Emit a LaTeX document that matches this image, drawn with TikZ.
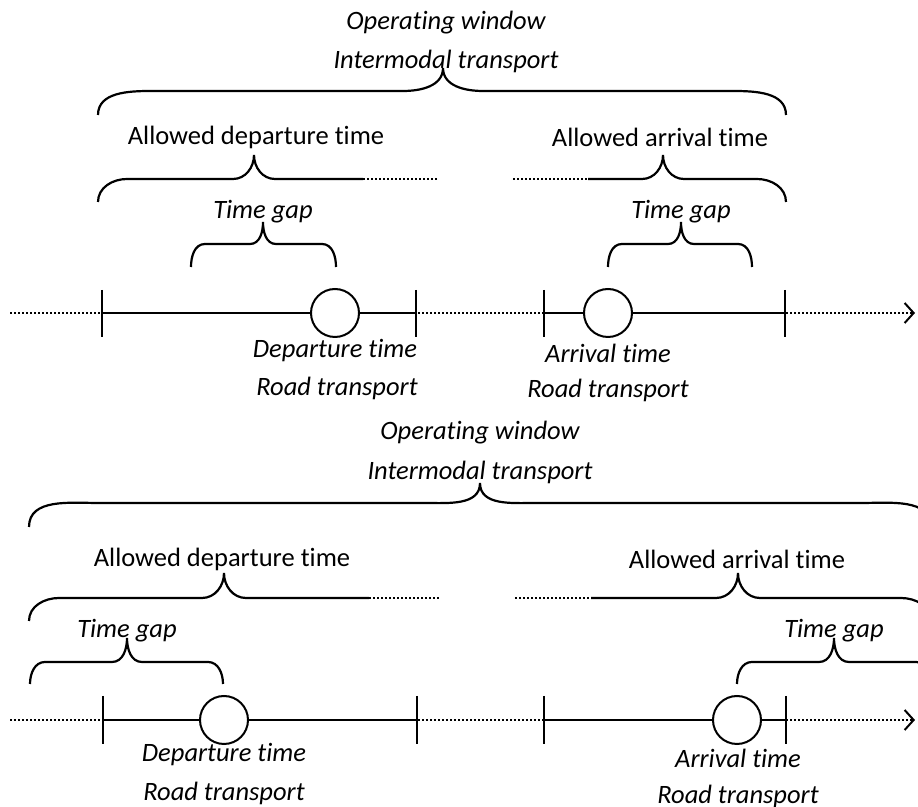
\documentclass[tikz,border=0pt]{standalone}
\usepackage{fontspec}
\setmainfont{Carlito}[Ligatures=NoCommon]
\usetikzlibrary{arrows.meta, positioning}

\tikzset{
  txt/.style={font=\fontsize{13.25}{16}\selectfont, inner sep=0pt},
  itxt/.style={font=\fontsize{13.25}{16}\selectfont\itshape, inner sep=0pt},
  brace/.style={line width=1.1pt},
  dotline/.style={line width=1.3pt, dash pattern=on 1pt off 1pt},
  solidline/.style={line width=1.2pt},
  tick/.style={line width=1pt},
  timept/.style={draw, circle, line width=1pt, fill=white, minimum size=24pt, inner sep=0pt}
}

% curly brace: x left, x right, x tip, y ends, y line, y tip, corner, tip width
\newcommand{\tbrace}[8]{%
  \draw[brace] (#1,#4) to[out=90,in=180] (#1+#7,#5) -- (#3-#8,#5)
    to[out=0,in=-90] (#3,#6) to[out=-90,in=180] (#3+#8,#5)
    -- (#2-#7,#5) to[out=0,in=90] (#2,#4);}

\begin{document}
\begin{tikzpicture}[x=0.5pt, y=-0.5pt]
    \useasboundingbox (0,0) rectangle (918,807);

    % ---------- first case ----------
    \node[itxt] (ow1) at (446,23) {Operating window};
    \node[itxt] (im1) at (446,61) {Intermodal transport};
    \tbrace{98}{786}{443}{115}{91}{68}{53}{40}

    \node[txt] (adt1) at (256,137) {Allowed departure time};
    \node[txt] (aat1) at (660,137) {Allowed arrival time};
    % allowed departure / arrival braces, open towards the middle
    \draw[brace] (98,202) to[out=90,in=180] (127,179) -- (233,179)
        to[out=0,in=-90] (254,155) to[out=-90,in=180] (275,179) -- (363,179);
    \draw[dotline] (363,179) -- (438,179);
    \draw[dotline] (513,179) -- (588,179);
    \draw[brace] (588,179) -- (642,179) to[out=0,in=-90] (663,155)
        to[out=-90,in=180] (684,179) -- (757,179) to[out=0,in=90] (786,202);

    \node[itxt] (tg1) at (263,212) {Time gap};
    \node[itxt] (tg2) at (681,212) {Time gap};
    \tbrace{191}{336}{263}{267}{244}{222}{14}{13}
    \tbrace{608}{752}{681}{267}{244}{222}{14}{13}

    % time axis
    \draw[dotline, -{Straight Barb[length=4.5pt, width=10pt, line width=1pt]}] (10,313) -- (915,313);
    \foreach \x in {102,416,544,785} \draw[tick] (\x,290) -- (\x,337);
    \node[timept] (dep1) at (335,313) {};
    \node[timept] (arr1) at (608,313) {};
    \draw[solidline] (102,313) -- (dep1) (dep1) -- (416,313);
    \draw[solidline] (544,313) -- (arr1) (arr1) -- (785,313);

    \node[itxt] (dt1) at (335,351) {Departure time};
    \node[itxt] (rt1) at (337,388) {Road transport};
    \node[itxt] (at1) at (608,353) {Arrival time};
    \node[itxt] (rt2) at (608,390) {Road transport};

    % ---------- second case ----------
    \node[itxt] (ow2) at (480,433) {Operating window};
    \node[itxt] (im2) at (480,472) {Intermodal transport};
    \tbrace{29}{931}{480}{527}{503}{483}{70}{55}

    \node[txt] (adt2) at (222,559) {Allowed departure time};
    \node[txt] (aat2) at (737,559) {Allowed arrival time};
    \draw[brace] (29,621) to[out=90,in=180] (59,598) -- (202,598)
        to[out=0,in=-90] (224,573) to[out=-90,in=180] (246,598) -- (369,598);
    \draw[dotline] (369,598) -- (439,598);
    \draw[dotline] (515,598) -- (591,598);
    \draw[brace] (591,598) -- (716,598) to[out=0,in=-90] (738,573)
        to[out=-90,in=180] (760,598) -- (901,598) to[out=0,in=90] (931,621);

    \node[itxt] (tg3) at (127,631) {Time gap};
    \node[itxt] (tg4) at (834,631) {Time gap};
    \tbrace{30}{223}{127}{684}{662}{638}{15}{15}
    \tbrace{737}{931}{834}{684}{662}{638}{15}{15}

    % time axis
    \draw[dotline, -{Straight Barb[length=4.5pt, width=10pt, line width=1pt]}] (10,720) -- (915,720);
    \foreach \x in {103,417,544,786} \draw[tick] (\x,696) -- (\x,744);
    \node[timept] (dep2) at (224,720) {};
    \node[timept] (arr2) at (737,720) {};
    \draw[solidline] (103,720) -- (dep2) (dep2) -- (417,720);
    \draw[solidline] (544,720) -- (arr2) (arr2) -- (786,720);

    \node[itxt] (dt2) at (224,755) {Departure time};
    \node[itxt] (rt3) at (224,793) {Road transport};
    \node[itxt] (at2) at (738,758) {Arrival time};
    \node[itxt] (rt4) at (738,796) {Road transport};
\end{tikzpicture}
\end{document}
